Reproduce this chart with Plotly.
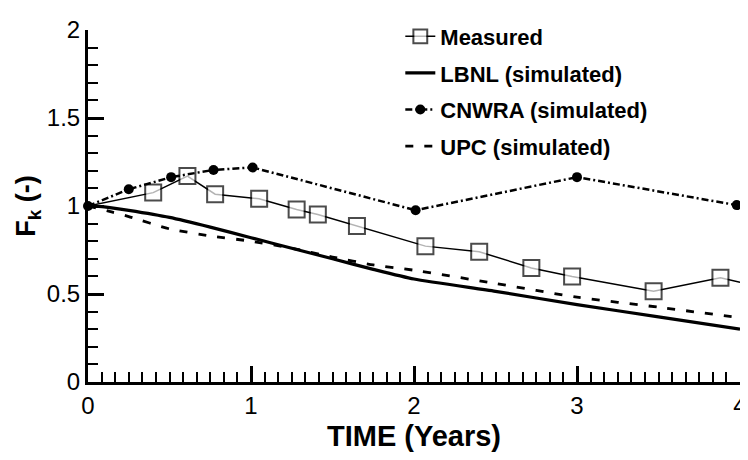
import plotly.graph_objects as go

# ---- data ----
meas_x = [0.0, 0.40, 0.61, 0.78, 1.05, 1.28, 1.41, 1.65, 2.07, 2.40, 2.72, 2.97, 3.47, 3.88, 4.0]
meas_y = [1.00, 1.076, 1.170, 1.067, 1.041, 0.980, 0.952, 0.887, 0.772, 0.740, 0.648, 0.600, 0.516, 0.592, 0.566]

lbnl_x = [0.0, 0.10, 0.25, 0.50, 0.75, 1.00, 1.25, 1.50, 1.75, 2.00, 2.50, 3.00, 3.50, 4.00]
lbnl_y = [1.00, 0.995, 0.975, 0.935, 0.88, 0.82, 0.76, 0.70, 0.64, 0.585, 0.515, 0.44, 0.37, 0.30]

cnwra_x = [0.0, 0.25, 0.51, 0.77, 1.01, 2.01, 3.00, 3.98]
cnwra_y = [1.00, 1.095, 1.164, 1.205, 1.219, 0.976, 1.164, 1.005]

upc_x = [0.0, 0.15, 0.25, 0.50, 0.75, 1.00, 1.25, 1.50, 1.75, 2.00, 2.50, 3.00, 3.50, 4.00]
upc_y = [1.00, 0.965, 0.94, 0.87, 0.83, 0.80, 0.76, 0.71, 0.665, 0.635, 0.56, 0.482, 0.425, 0.365]

x_ticks = [0, 1, 2, 3, 4]
y_ticks = [0, 0.5, 1, 1.5, 2]

FONT = "Liberation Sans, Arial, Helvetica, sans-serif"

meas_sizes = [0] + [16] * (len(meas_x) - 2) + [0]

fig = go.Figure()
fig.add_trace(go.Scatter(
    x=meas_x, y=meas_y, mode="lines+markers", name="<b>Measured</b>", legendgroup="a",
    line=dict(color="black", width=1.5), cliponaxis=False,
    marker=dict(symbol="square", size=meas_sizes, color="white",
                line=dict(color="black", width=2)),
))
fig.add_trace(go.Scatter(
    x=lbnl_x, y=lbnl_y, mode="lines", name="<b>LBNL (simulated)</b>", legendgroup="b",
    line=dict(color="black", width=3.2, shape="spline", smoothing=0.6),
))
fig.add_trace(go.Scatter(
    x=cnwra_x, y=cnwra_y, mode="lines+markers", name="<b>CNWRA (simulated)</b>", legendgroup="c",
    line=dict(color="black", width=2.5, dash="7px,3px,2px,3px"), cliponaxis=False,
    marker=dict(symbol="circle", size=10, color="black"),
))
fig.add_trace(go.Scatter(
    x=upc_x, y=upc_y, mode="lines", name="<b>UPC (simulated)</b>", legendgroup="d",
    line=dict(color="black", width=2.8, dash="8px,11px", shape="spline", smoothing=0.6),
))

# the page body adds an 8px offset, so the figure is placed at (8, 8)
fig.update_layout(
    width=740, height=444,
    margin=dict(l=80, r=8, t=13, b=70),
    paper_bgcolor="white", plot_bgcolor="white",
    font=dict(family=FONT, color="black"),
    showlegend=True,
    legend=dict(
        x=0.479, y=1.041, xanchor="left", yanchor="top",
        font=dict(family=FONT, size=22, color="black"),
        bgcolor="rgba(0,0,0,0)", borderwidth=0,
        itemwidth=30, tracegroupgap=5, traceorder="grouped",
    ),
)

fig.update_xaxes(
    range=[0, 4], tickvals=x_ticks, ticktext=[str(v) for v in x_ticks],
    automargin=False, ticklabeloverflow="allow",
    showgrid=False, zeroline=False,
    showline=True, linecolor="black", linewidth=3,
    ticks="inside", ticklen=16, tickwidth=3, tickcolor="black",
    tickfont=dict(family=FONT, size=24, color="black"),
    minor=dict(dtick=1/12, ticks="inside", ticklen=10, tickwidth=2, tickcolor="black", showgrid=False),
    title=dict(text="<b>TIME (Years)</b>", font=dict(family=FONT, size=29, color="black"), standoff=12),
)
fig.update_yaxes(
    range=[0, 2], tickvals=y_ticks, ticktext=["0", "0.5", "1", "1.5", "2"],
    automargin=False, ticklabeloverflow="allow",
    showgrid=False, zeroline=False,
    showline=True, linecolor="black", linewidth=3,
    ticks="inside", ticklen=16, tickwidth=3, tickcolor="black",
    tickfont=dict(family=FONT, size=24, color="black"),
    minor=dict(dtick=0.1, ticks="inside", ticklen=10, tickwidth=2, tickcolor="black", showgrid=False),
    title=dict(text="<b>F<sub>k</sub> (-)</b>", font=dict(family=FONT, size=27, color="black"), standoff=4),
)

fig.write_html("out.html")
